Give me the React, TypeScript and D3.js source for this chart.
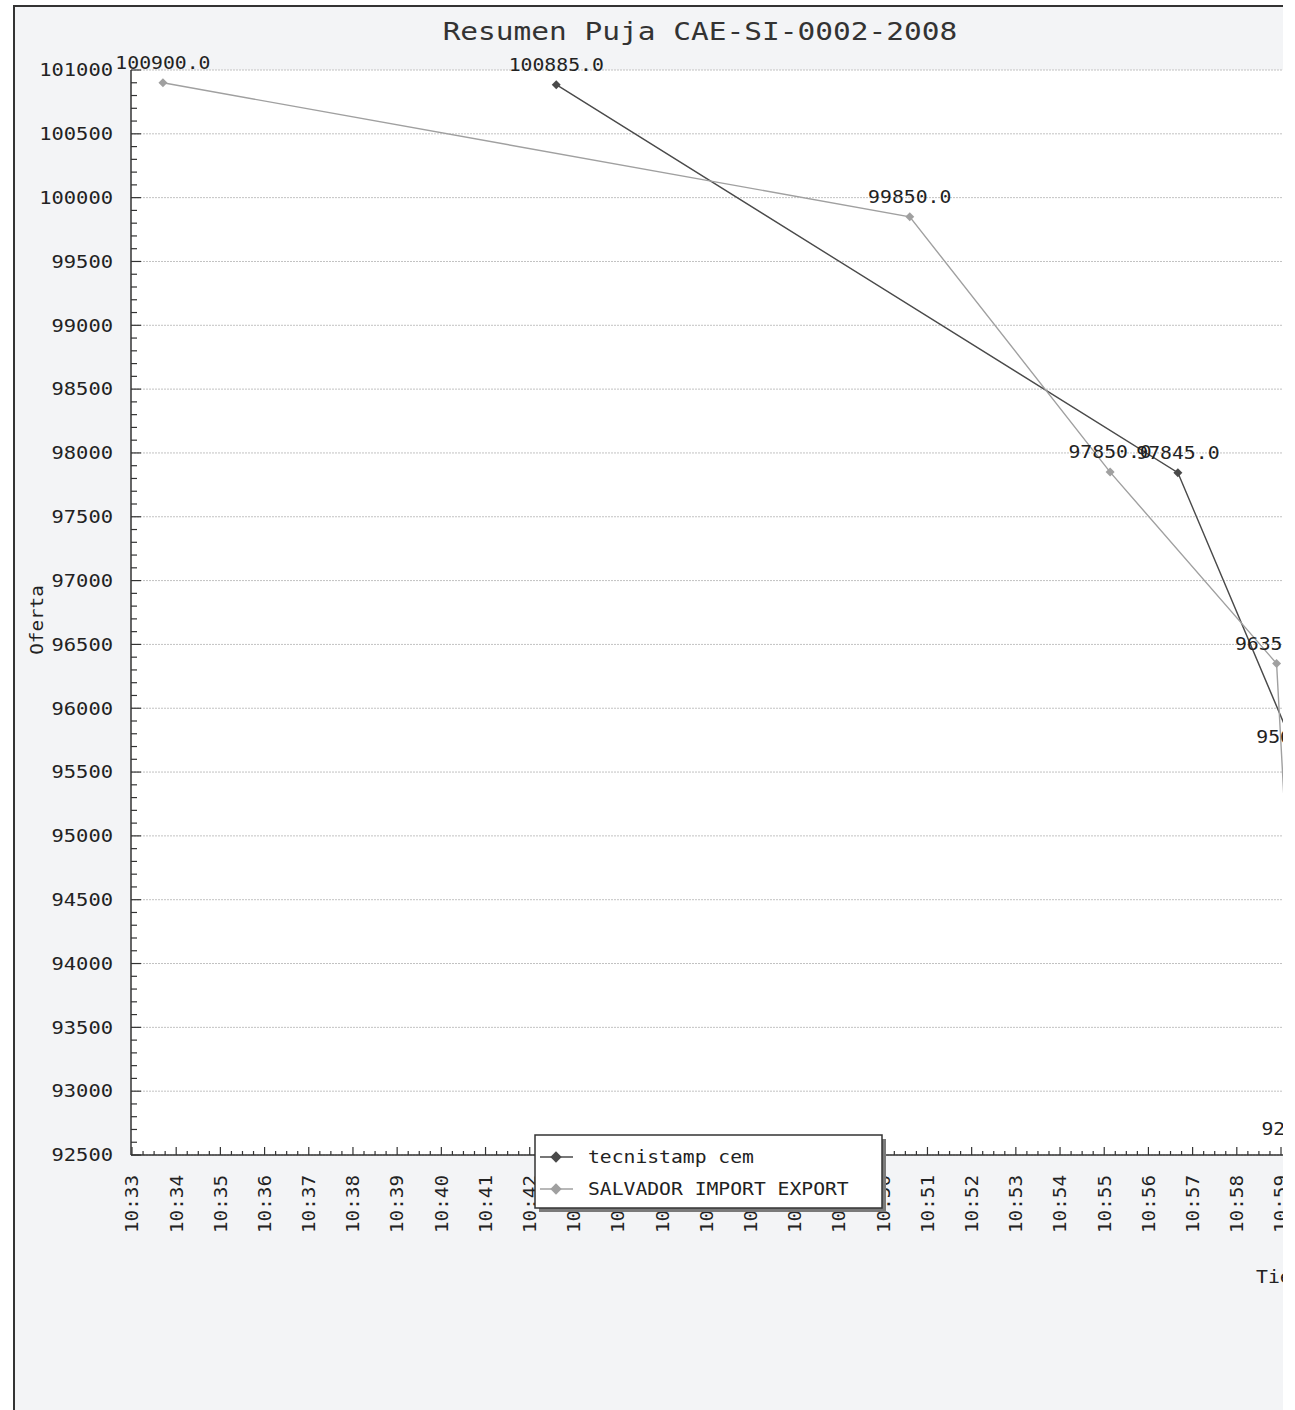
import React, { useEffect, useRef } from 'react';
import * as d3 from 'd3';

// --- Data ---
const chartTitle = 'Resumen Puja CAE-SI-0002-2008';
const yAxisTitle = 'Oferta';
const xAxisTitle = 'Tiempo';
const seriesNames = ['tecnistamp cem', 'SALVADOR IMPORT EXPORT'];

const tecnistampTimes = ['10:42:36', '10:56:40', '10:59:23'];
const tecnistampValues = [100885, 97845, 95620];

const salvadorTimes = ['10:33:42', '10:50:36', '10:55:08', '10:58:54', '10:59:30'];
const salvadorValues = [100900, 99850, 97850, 96350, 92550];

const yTickValues = [
    92500, 93000, 93500, 94000, 94500, 95000, 95500, 96000, 96500,
    97000, 97500, 98000, 98500, 99000, 99500, 100000, 100500, 101000,
];
const xTickLabels = [
    '10:33', '10:34', '10:35', '10:36', '10:37', '10:38', '10:39', '10:40', '10:41',
    '10:42', '10:43', '10:44', '10:45', '10:46', '10:47', '10:48', '10:49', '10:50',
    '10:51', '10:52', '10:53', '10:54', '10:55', '10:56', '10:57', '10:58', '10:59',
];

interface Point {
    t: Date;
    v: number;
}

const W = 1295;
const H = 1410;
const FONT = '"DejaVu Sans Mono", "Liberation Mono", monospace';
const CHAR_W = 11.9; // the scan's mono glyphs are wider than DejaVu's

const parseHMS = d3.timeParse('%H:%M:%S');
const parseHM = d3.timeParse('%H:%M');

// eslint-disable-next-line @typescript-eslint/no-explicit-any
const monoText = (sel: any, size = 17, charW = CHAR_W) =>
    sel
        .attr('textLength', (d: unknown, i: number, nodes: SVGTextElement[]) => {
            const txt = nodes[i].textContent || '';
            return txt.length * charW;
        })
        .attr('lengthAdjust', 'spacingAndGlyphs')
        .style('font-family', FONT)
        .style('font-size', `${size}px`)
        .style('fill', '#222');

const drawChart = (svgEl: SVGSVGElement) => {
    const root = d3.select(svgEl);
    root.selectAll('*').remove();

    const plot = { left: 131, top: 70, bottom: 1155, right: 1340 };

    const xScale = d3.scaleTime()
        .domain([parseHM('10:33') as Date, parseHM('10:59') as Date])
        .range([132, 1281]);
    const yScale = d3.scaleLinear()
        .domain([92500, 101000])
        .range([plot.bottom, plot.top]);

    // the scan is cut off on the right
    root.append('defs').append('clipPath').attr('id', 'page-clip')
        .append('rect').attr('x', 0).attr('y', 0).attr('width', 1283).attr('height', H);

    root.append('rect').attr('width', W).attr('height', H).attr('fill', '#ffffff');

    const g = root.append('g').attr('clip-path', 'url(#page-clip)');

    // chart background + border
    g.append('rect')
        .attr('x', 14).attr('y', 6)
        .attr('width', 1400).attr('height', 1500)
        .attr('fill', '#f3f4f6')
        .attr('stroke', '#333')
        .attr('stroke-width', 2);

    // plot area
    g.append('rect')
        .attr('x', plot.left).attr('y', plot.top)
        .attr('width', plot.right - plot.left).attr('height', plot.bottom - plot.top)
        .attr('fill', '#ffffff');

    // gridlines
    g.selectAll('.grid')
        .data(yTickValues)
        .enter()
        .append('line')
        .attr('x1', plot.left).attr('x2', plot.right)
        .attr('y1', d => yScale(d)).attr('y2', d => yScale(d))
        .attr('stroke', '#c2c2c2')
        .attr('stroke-width', 1)
        .attr('stroke-dasharray', '2,1');

    // --- Y axis ---
    g.append('line')
        .attr('x1', plot.left).attr('x2', plot.left)
        .attr('y1', plot.top).attr('y2', plot.bottom)
        .attr('stroke', '#333').attr('stroke-width', 1.5);

    const yMinor = d3.range(92500, 101001, 100);
    g.selectAll('.ytick')
        .data(yMinor)
        .enter()
        .append('line')
        .attr('x1', plot.left)
        .attr('x2', d => plot.left + (d % 500 === 0 ? 10 : 6))
        .attr('y1', d => yScale(d)).attr('y2', d => yScale(d))
        .attr('stroke', '#333').attr('stroke-width', 1.2);

    g.selectAll('.ylabel')
        .data(yTickValues)
        .enter()
        .append('text')
        .attr('x', 113)
        .attr('y', d => yScale(d))
        .attr('dy', '0.35em')
        .attr('text-anchor', 'end')
        .text(d => String(d))
        .call(monoText, 18, 12.3);

    // --- X axis ---
    g.append('line')
        .attr('x1', plot.left).attr('x2', plot.right)
        .attr('y1', plot.bottom).attr('y2', plot.bottom)
        .attr('stroke', '#333').attr('stroke-width', 1.5);

    const xStart = parseHM('10:33') as Date;
    const xMinor = d3.range(0, 27 * 4 + 1).map(i => d3.timeSecond.offset(xStart, i * 15));
    g.selectAll('.xtick')
        .data(xMinor)
        .enter()
        .append('line')
        .attr('x1', d => xScale(d)).attr('x2', d => xScale(d))
        .attr('y1', plot.bottom)
        .attr('y2', (_d, i) => plot.bottom - (i % 4 === 0 ? 8 : 4))
        .attr('stroke', '#333').attr('stroke-width', 1.2);

    g.selectAll('.xlabel')
        .data(xTickLabels)
        .enter()
        .append('text')
        .attr('transform', d => `translate(${xScale(parseHM(d) as Date)}, 1175) rotate(-90)`)
        .attr('dy', '0.35em')
        .attr('text-anchor', 'end')
        .text(d => d)
        .call(monoText, 18, 11.6);

    // --- Series ---
    const series = [
        {
            name: seriesNames[0],
            color: '#4a4a4a',
            points: tecnistampTimes.map((t, i) => ({ t: parseHMS(t) as Date, v: tecnistampValues[i] })),
        },
        {
            name: seriesNames[1],
            color: '#a0a0a0',
            points: salvadorTimes.map((t, i) => ({ t: parseHMS(t) as Date, v: salvadorValues[i] })),
        },
    ];

    const line = d3.line<Point>()
        .x(d => xScale(d.t))
        .y(d => yScale(d.v));

    const diamond = d3.symbol().type(d3.symbolSquare).size(40);

    series.forEach(s => {
        g.append('path')
            .attr('d', line(s.points))
            .attr('fill', 'none')
            .attr('stroke', s.color)
            .attr('stroke-width', 1.4);

        g.selectAll(null)
            .data(s.points)
            .enter()
            .append('path')
            .attr('d', diamond)
            .attr('transform', d => `translate(${xScale(d.t)}, ${yScale(d.v)}) rotate(45)`)
            .attr('fill', s.color);
    });

    // item labels
    series.forEach(s => {
        g.selectAll(null)
            .data(s.points)
            .enter()
            .append('text')
            .attr('x', d => xScale(d.t))
            .attr('y', d => yScale(d.v) - 14)
            .attr('text-anchor', 'middle')
            .text(d => d.v.toFixed(1))
            .call(monoText, 18, 11.9);
    });

    // --- Legend ---
    const lg = g.append('g').attr('transform', 'translate(535, 1135)');
    lg.append('rect')
        .attr('x', 4).attr('y', 4)
        .attr('width', 347).attr('height', 73)
        .attr('fill', '#7a7a7a');
    lg.append('rect')
        .attr('x', 0).attr('y', 0)
        .attr('width', 347).attr('height', 73)
        .attr('fill', '#ffffff')
        .attr('stroke', '#333')
        .attr('stroke-width', 1.5);

    series.forEach((s, i) => {
        const cy = 22 + i * 32;
        lg.append('line')
            .attr('x1', 5).attr('x2', 38)
            .attr('y1', cy).attr('y2', cy)
            .attr('stroke', s.color).attr('stroke-width', 1.4);
        lg.append('path')
            .attr('d', d3.symbol().type(d3.symbolSquare).size(64)())
            .attr('transform', `translate(21, ${cy}) rotate(45)`)
            .attr('fill', s.color);
        lg.append('text')
            .attr('x', 53)
            .attr('y', cy)
            .attr('dy', '0.35em')
            .text(s.name)
            .call(monoText, 18, 11.85);
    });

    // --- Titles ---
    g.append('text')
        .attr('x', 700)
        .attr('y', 40)
        .attr('text-anchor', 'middle')
        .text(chartTitle)
        .call(monoText, 25, 17.75)
        .style('fill', '#333');

    g.append('text')
        .attr('transform', `translate(37, 620) rotate(-90)`)
        .attr('dy', '0.35em')
        .attr('text-anchor', 'middle')
        .text(yAxisTitle)
        .call(monoText, 17, 11.6);

    g.append('text')
        .attr('x', 1256)
        .attr('y', 1283)
        .text(xAxisTitle)
        .call(monoText, 18, 11.9);
};

const App: React.FC = () => {
    const svgRef = useRef<SVGSVGElement | null>(null);

    useEffect(() => {
        document.body.style.margin = '0';
        if (svgRef.current) drawChart(svgRef.current);
    }, []);

    return <svg ref={svgRef} width={W} height={H} style={{ display: 'block' }} />;
};

export default App;
